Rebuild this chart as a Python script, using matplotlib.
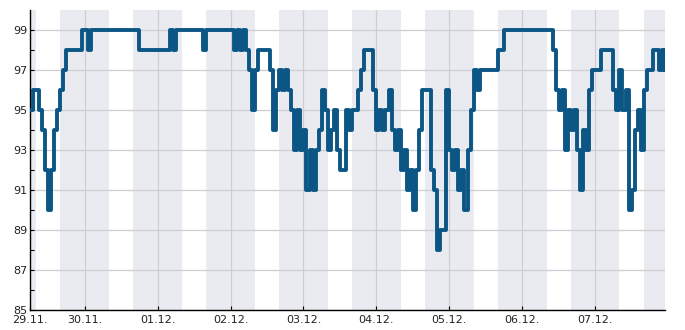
import numpy as np
from matplotlib import pyplot as plt

# hourly readings, first day starts at 06:00
d29 = [95, 96, 96, 95, 94, 92, 90, 92, 94, 95, 96, 97, 98, 98, 98, 98, 98, 99]
d30 = [99, 98, 99, 99, 99, 99, 99, 99, 99, 99, 99, 99, 99, 99, 99, 99, 99, 99, 98, 98, 98, 98, 98, 98]
d01 = [98, 98, 98, 98, 99, 98, 99, 99, 99, 99, 99, 99, 99, 99, 99, 98, 99, 99, 99, 99, 99, 99, 99, 99]
d02 = [99, 98, 99, 98, 99, 98, 97, 95, 97, 98, 98, 98, 98, 97, 94, 96, 97, 96, 97, 96, 95, 93, 95, 93]
d03 = [94, 91, 93, 91, 93, 94, 96, 95, 93, 94, 95, 93, 92, 92, 95, 94, 95, 95, 96, 97, 98, 98, 98, 96]
d04 = [94, 95, 94, 95, 96, 94, 93, 94, 92, 93, 91, 92, 90, 92, 94, 96, 96, 96, 92, 91, 88, 89, 89, 96]
d05 = [93, 92, 93, 91, 92, 90, 93, 95, 97, 96, 97, 97, 97, 97, 97, 97, 98, 98, 99, 99, 99, 99, 99, 99]
d06 = [99, 99, 99, 99, 99, 99, 99, 99, 99, 99, 98, 96, 95, 96, 93, 95, 94, 95, 93, 91, 94, 93, 96, 97]
d07 = [97, 97, 98, 98, 98, 98, 96, 95, 97, 95, 96, 90, 91, 94, 95, 93, 96, 97, 97, 98, 98, 97, 98, 97]

day_labels = ["29.11.", "30.11.", "01.12.", "02.12.", "03.12.", "04.12.", "05.12.", "06.12.", "07.12."]

values = d29 + d30 + d01 + d02 + d03 + d04 + d05 + d06 + d07
hours = np.arange(6, 6 + len(values))   # hours since 29.11. 00:00

fig = plt.figure(figsize=(6.85, 3.3), dpi=100)
ax = fig.add_axes([30/685, 20/330, 635/685, 300/330])

# night bands 16:00 - 08:00
for k in range(0, 10):
    ax.axvspan(k*24 - 8, k*24 + 8, color='#eaebf1', lw=0, zorder=0.2)

ax.step(hours, values, where='post', color='#0c5685', lw=2.8, zorder=3)

ax.set_xlim(6, 215)
ax.set_ylim(85, 100)
ax.set_xticks([6] + [24*k for k in range(1, 9)])
ax.set_xticklabels(day_labels)
ax.set_yticks(np.arange(85, 100, 2))
ax.set_yticks(np.arange(86, 100, 2), minor=True)

ax.set_axisbelow(True)
ax.grid(True, which='major', color='#cdcdd2', lw=0.9)
for s in ['top', 'right']:
    ax.spines[s].set_visible(False)
for s in ['left', 'bottom']:
    ax.spines[s].set_color('black')
    ax.spines[s].set_linewidth(1)

ax.tick_params(which='both', direction='in', length=3, width=0.8, labelsize=8,
               labelcolor='#222222', pad=2)
ax.tick_params(axis='x', pad=3.5)
ax.tick_params(axis='y', which='both', right=False)

fig.savefig('out.png', dpi=100)
